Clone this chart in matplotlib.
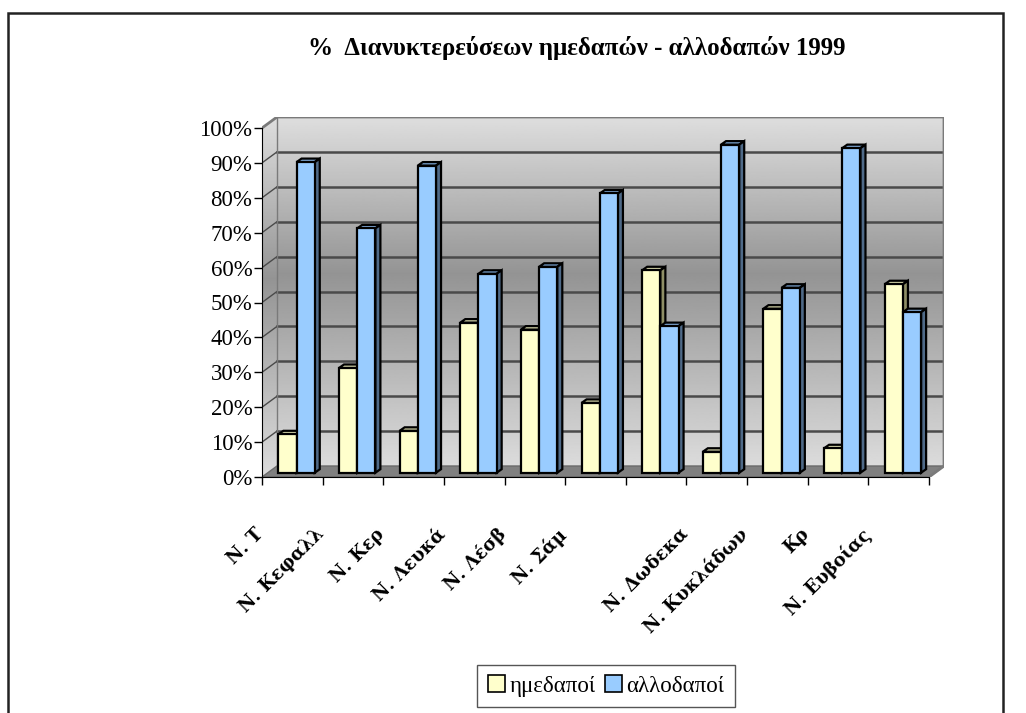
import numpy as np
import matplotlib
matplotlib.use("Agg")
import matplotlib.pyplot as plt
from matplotlib.patches import Polygon, Rectangle, Patch
from matplotlib.transforms import ScaledTranslation

# ---------------- data ----------------
categories = ["Ν. Τ", "Ν. Κεφαλλ", "Ν. Κερ", "Ν. Λευκά", "Ν. Λέσβ", "Ν. Σάμ",
              "", "Ν. Δωδεκα", "Ν. Κυκλάδων", "Κρ", "Ν. Ευβοίας"]
domestic = [11, 30, 12, 43, 41, 20, 58, 6, 47, 7, 54]     # ημεδαποί
foreign = [89, 70, 88, 57, 59, 80, 42, 94, 53, 93, 46]    # αλλοδαποί
series_names = ["ημεδαποί", "αλλοδαποί"]
y_ticks = [0, 10, 20, 30, 40, 50, 60, 70, 80, 90, 100]
y_tick_labels = [f"{v}%" for v in y_ticks]
title = "%  Διανυκτερεύσεων ημεδαπών - αλλοδαπών 1999"

# ---------------- style ----------------
front_cols = ["#FFFFCC", "#99CCFF"]
top_cols = ["#D6D6AA", "#7DA6D4"]
side_cols = ["#8F8F66", "#4F6A88"]
serif = "Liberation Serif"

W_PX, H_PX = 1026, 713
fig = plt.figure(figsize=(W_PX / 100, H_PX / 100), dpi=100)

PX_CAT = 667 / 11      # pixels per category on front axis
PX_PCT = 3.49          # pixels per percent
ax = fig.add_axes([262 / W_PX, (H_PX - 477) / H_PX, 682 / W_PX, 360 / H_PX])
n = len(categories)

WX, WY = 15 / PX_CAT, 11 / PX_PCT      # wall depth
BX, BY = 0.07, 4.3 / PX_PCT            # bar plane shift
DX, DY = 5 / PX_CAT, 3.5 / PX_PCT      # bar depth
BW = 0.30

# wall gradient
g = np.linspace(0, 1, 256)
shade = np.interp(g, [0, 0.55, 1], [0.86, 0.58, 0.87])[:, None]
ax.imshow(shade, cmap="gray", vmin=0, vmax=1, origin="lower", aspect="auto",
          extent=(WX, n + WX, WY, 100 + WY), zorder=0, interpolation="bilinear")
im2 = ax.imshow(shade, cmap="gray", vmin=0, vmax=1, origin="lower", aspect="auto",
                extent=(0, WX, 0, 100 + WY), zorder=0, interpolation="bilinear")
side_poly = Polygon([(0, 0), (WX, WY), (WX, 100 + WY), (0, 100)], closed=True,
                    transform=ax.transData, fill=False, lw=0)
im2.set_clip_path(side_poly)
ax.set_xlim(0, 682 / PX_CAT)
ax.set_ylim(0, 360 / PX_PCT)

# floor
ax.add_patch(Polygon([(0, 0), (n, 0), (n + WX, WY), (WX, WY)], closed=True,
                     fc="#808080", ec="#6a6a6a", lw=1, zorder=1))

# gridlines
for v in y_ticks[1:-1]:
    ax.plot([WX, n + WX], [v + WY, v + WY], color="#4a4a4a", lw=1.8, zorder=1.2)
    ax.plot([0, WX], [v, v + WY], color="#4a4a4a", lw=1.0, zorder=1.2)
edge = "#7a7a7a"
ax.plot([0, WX, n + WX, n + WX, n], [100, 100 + WY, 100 + WY, WY, 0],
        color=edge, lw=2, zorder=1.3)
ax.plot([WX, WX], [WY, 100 + WY], color=edge, lw=1, zorder=1.3)

# bars
for s, vals in enumerate([domestic, foreign]):
    xs = np.arange(n) + 0.5 - BW + s * BW + BX
    cont = ax.bar(xs, vals, BW, bottom=BY, align="edge", color=front_cols[s],
                  edgecolor="black", lw=1.6)
    for i, (rect, v) in enumerate(zip(cont.patches, vals)):
        z = 3 + 2 * i + s
        rect.set_zorder(z + 0.5)
        x0, y0 = rect.get_x(), rect.get_y()
        top = y0 + v
        ax.add_patch(Polygon([(x0, top), (x0 + DX, top + DY), (x0 + BW + DX, top + DY),
                              (x0 + BW, top)], closed=True, fc=top_cols[s],
                             ec="black", lw=1.6, zorder=z))
        ax.add_patch(Polygon([(x0 + BW, y0), (x0 + BW + DX, y0 + DY),
                              (x0 + BW + DX, top + DY), (x0 + BW, top)], closed=True,
                             fc=side_cols[s], ec="black", lw=1.6, zorder=z))

# axes
for sp in ["top", "right"]:
    ax.spines[sp].set_visible(False)
ax.spines["left"].set_bounds(0, 100)
ax.spines["bottom"].set_bounds(0, n)
ax.spines["left"].set_color("black")
ax.spines["bottom"].set_color("black")

ax.set_yticks(y_ticks, y_tick_labels)
ax.tick_params(axis="y", direction="out", length=6, width=1, labelsize=16.5, pad=1)
for lab in ax.get_yticklabels():
    lab.set_fontfamily(serif)

ax.set_xticks(range(n + 1), [""] * (n + 1))
ax.tick_params(axis="x", which="major", direction="out", length=6, width=1)
ax.set_xticks(np.arange(n) + 0.5, minor=True)
ax.set_xticklabels(categories, minor=True, rotation=45, ha="right", va="top",
                   rotation_mode="anchor", fontsize=13, fontweight="bold",
                   family="DejaVu Serif")
ax.tick_params(axis="x", which="minor", length=0, pad=0)
shift = ScaledTranslation(-0.38, -0.48, fig.dpi_scale_trans)
for lab in ax.get_xticklabels(minor=True):
    lab.set_transform(lab.get_transform() + shift)

# title
fig.text(577 / W_PX, 1 - 48 / H_PX, title, ha="center", va="center",
         fontsize=18, fontweight="bold", family=serif)

# legend
handles = [Patch(facecolor=front_cols[k], edgecolor="black", lw=1.2) for k in range(2)]
leg = fig.legend(handles, series_names, loc="upper center",
                 bbox_to_anchor=(606 / W_PX, 1 - 665 / H_PX), ncol=2, frameon=True,
                 fancybox=False, edgecolor="#555555", framealpha=1,
                 prop={"family": serif, "size": 16.5}, handlelength=0.75,
                 handleheight=0.75, handletextpad=0.2, columnspacing=0.4,
                 borderpad=0.45, borderaxespad=0)
leg.get_frame().set_linewidth(1.0)

# outer frame
fig.add_artist(Rectangle((8 / W_PX, -0.05), (1003 - 8) / W_PX, (H_PX - 13) / H_PX + 0.05,
                         transform=fig.transFigure, fill=False, lw=1.8, ec="#222222"))

fig.savefig("out.png", dpi=100)
